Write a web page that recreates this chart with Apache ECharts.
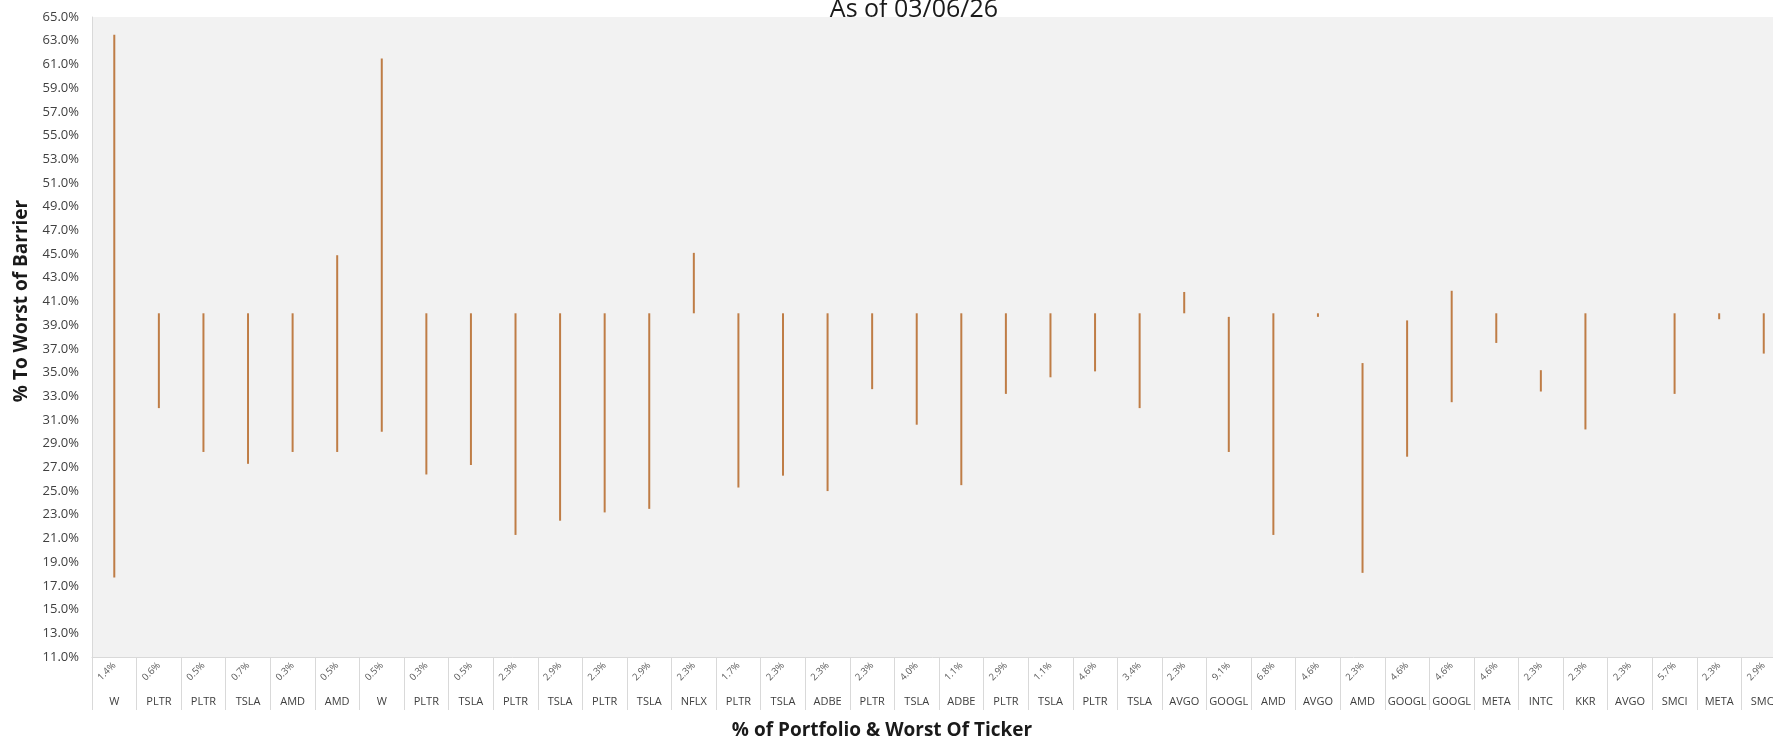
<!DOCTYPE html>
<html>
<head>
<meta charset="utf-8">
<script src="https://cdn.jsdelivr.net/npm/echarts@6/dist/echarts.min.js"></script>
<style>
html,body{margin:0;padding:0;background:#fff;}
#chart{width:1773px;height:740px;}
</style>
</head>
<body>
<div id="chart"></div>
<script>
// Category labels
const pctLabels = ['1.4%','0.6%','0.5%','0.7%','0.3%','0.5%','0.5%','0.3%','0.5%','2.3%','2.9%','2.3%','2.9%','2.3%','1.7%','2.3%','2.3%','2.3%','4.0%','1.1%','2.9%','1.1%','4.6%','3.4%','2.3%','9.1%','6.8%','4.6%','2.3%','4.6%','4.6%','4.6%','2.3%','2.3%','2.3%','5.7%','2.3%','2.9%'];
const tickers = ['W','PLTR','PLTR','TSLA','AMD','AMD','W','PLTR','TSLA','PLTR','TSLA','PLTR','TSLA','NFLX','PLTR','TSLA','ADBE','PLTR','TSLA','ADBE','PLTR','TSLA','PLTR','TSLA','AVGO','GOOGL','AMD','AVGO','AMD','GOOGL','GOOGL','META','INTC','KKR','AVGO','SMCI','META','SMCI'];
// Floating bar ends (% to worst of barrier)
const lowValues  = [17.7, 32.0, 28.3, 27.3, 28.3, 28.3, 30.0, 26.4, 27.2, 21.3, 22.5, 23.2, 23.5, 40.0, 25.3, 26.3, 25.0, 33.6, 30.6, 25.5, 33.2, 34.6, 35.1, 32.0, 40.0, 28.3, 21.3, 39.7, 18.1, 27.9, 32.5, 37.5, 33.4, 30.2, null, 33.2, 39.5, 36.6];
const highValues = [63.5, 40.0, 40.0, 40.0, 40.0, 44.9, 61.5, 40.0, 40.0, 40.0, 40.0, 40.0, 40.0, 45.1, 40.0, 40.0, 40.0, 40.0, 40.0, 40.0, 40.0, 40.0, 40.0, 40.0, 41.8, 39.7, 40.0, 40.0, 35.8, 39.4, 41.9, 40.0, 35.2, 40.0, null, 40.0, 40.0, 40.0];
// Axis range
const yMin = 11, yMax = 65, yStep = 2;

const rangeValues = lowValues.map((l, i) => (l == null || highValues[i] == null) ? null : +(highValues[i] - l).toFixed(2));

const FONT = '"Open Sans", "Noto Sans", sans-serif';
const chart = echarts.init(document.getElementById('chart'));
const catWidth = 44.58;
chart.setOption({
  animation: false,
  backgroundColor: '#ffffff',
  grid: {
    left: 92, top: 17, width: catWidth * tickers.length, height: 640,
    outerBoundsMode: 'none', containLabel: false,
    show: true, backgroundColor: '#f2f2f2', borderWidth: 0
  },
  xAxis: [
    {
      type: 'category', data: tickers, position: 'bottom',
      axisLine: { show: true, lineStyle: { color: '#d9d9d9', width: 1 } },
      axisTick: { show: true, length: 53, interval: 0, lineStyle: { color: '#d9d9d9' } },
      axisLabel: { interval: 0, margin: 39, fontSize: 11, color: '#404040', fontFamily: FONT, hideOverlap: false }
    },
    {
      type: 'category', data: pctLabels, position: 'bottom',
      axisLine: { show: false }, axisTick: { show: false },
      axisLabel: { interval: 0, rotate: 45, margin: 7, fontSize: 9.5, color: '#595959', fontFamily: FONT, hideOverlap: false }
    }
  ],
  yAxis: {
    type: 'value', min: yMin, max: yMax, interval: yStep,
    axisLine: { show: true, lineStyle: { color: '#d9d9d9' } },
    axisTick: { show: false },
    splitLine: { show: false },
    axisLabel: { margin: 13, fontSize: 13, color: '#404040', fontFamily: FONT,
      formatter: v => v.toFixed(1) + '%' }
  },
  series: [
    {
      type: 'bar', stack: 'r', xAxisIndex: 0, data: lowValues, barWidth: 2,
      itemStyle: { color: 'rgba(0,0,0,0)' }, silent: true
    },
    {
      type: 'bar', stack: 'r', xAxisIndex: 0, data: rangeValues, barWidth: 2,
      itemStyle: { color: '#bf7d46' }
    }
  ],
  graphic: [
    { type: 'text', x: 914, y: 22, style: { text: 'As of 03/06/26', font: '25px ' + FONT, fill: '#1a1a1a', textAlign: 'center', textVerticalAlign: 'bottom' } },
    { type: 'text', x: 22, y: 301, rotation: Math.PI / 2, style: { text: '% To Worst of Barrier', font: 'bold 19px ' + FONT, fill: '#1a1a1a', textAlign: 'center', textVerticalAlign: 'middle' } },
    { type: 'text', x: 882, y: 731, style: { text: '% of Portfolio & Worst Of Ticker', font: 'bold 19px ' + FONT, fill: '#1a1a1a', textAlign: 'center', textVerticalAlign: 'middle' } }
  ]
});
</script>
</body>
</html>
